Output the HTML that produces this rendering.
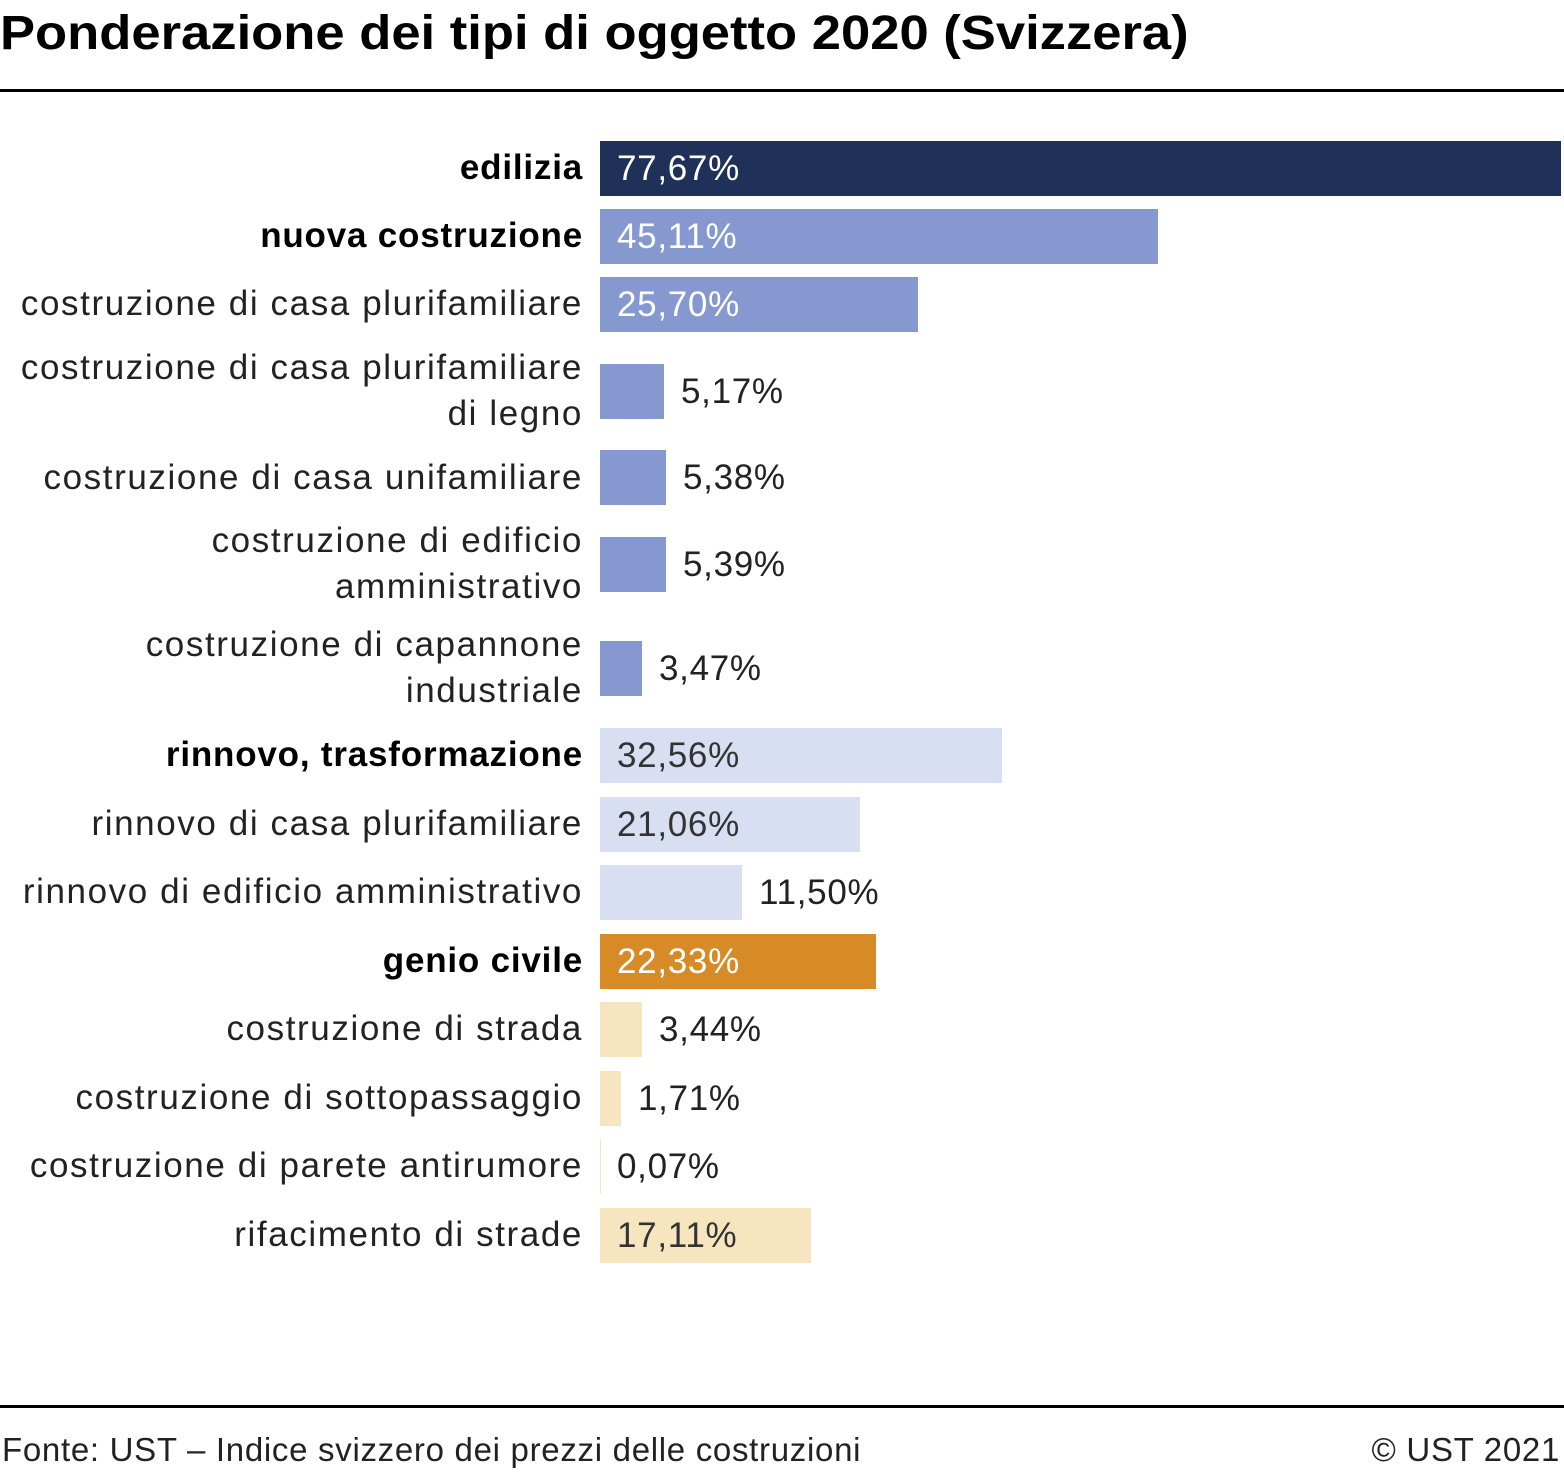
<!DOCTYPE html>
<html><head><meta charset="utf-8"><style>
body{margin:0;width:1564px;height:1472px;background:#fff;position:relative;font-family:"Liberation Sans",sans-serif;overflow:hidden}
.t{position:absolute;left:0;top:6px;font-size:48px;font-weight:bold;color:#000;white-space:nowrap;transform:scaleX(1.095);transform-origin:0 0}
.hr{position:absolute;left:0;width:1564px;height:3px;background:#000}
.l{position:absolute;right:981px;font-size:35px;letter-spacing:1.6px;color:#222;text-align:right;line-height:46px;white-space:nowrap}
.b{font-weight:bold;color:#000;letter-spacing:0.8px}
.bar{position:absolute;left:600px;height:55px}
.v{position:absolute;font-size:35px;letter-spacing:0.7px;line-height:55px;white-space:nowrap;color:#222}
.f{position:absolute;top:1431px;font-size:33px;letter-spacing:0.7px;color:#222;white-space:nowrap}
</style></head><body>
<div class="t">Ponderazione dei tipi di oggetto 2020 (Svizzera)</div>
<div class="hr" style="top:89px"></div>

<div class="l b" style="top:145px">edilizia</div>
<div class="bar" style="top:141px;width:961px;background:#1f3159"></div>
<div class="v" style="top:141px;left:617px;color:#fff">77,67%</div>

<div class="l b" style="top:213px">nuova costruzione</div>
<div class="bar" style="top:209px;width:558px;background:#8599d0"></div>
<div class="v" style="top:209px;left:617px;color:#fff">45,11%</div>

<div class="l" style="top:281px">costruzione di casa plurifamiliare</div>
<div class="bar" style="top:277px;width:318px;background:#8599d0"></div>
<div class="v" style="top:277px;left:617px;color:#fff">25,70%</div>

<div class="l" style="top:345px">costruzione di casa plurifamiliare<br>di legno</div>
<div class="bar" style="top:364px;width:64px;background:#8599d0"></div>
<div class="v" style="top:364px;left:681px">5,17%</div>

<div class="l" style="top:455px">costruzione di casa unifamiliare</div>
<div class="bar" style="top:450px;width:66px;background:#8599d0"></div>
<div class="v" style="top:450px;left:683px">5,38%</div>

<div class="l" style="top:518px">costruzione di edificio<br>amministrativo</div>
<div class="bar" style="top:537px;width:66px;background:#8599d0"></div>
<div class="v" style="top:537px;left:683px">5,39%</div>

<div class="l" style="top:622px">costruzione di capannone<br>industriale</div>
<div class="bar" style="top:641px;width:42px;background:#8599d0"></div>
<div class="v" style="top:641px;left:659px">3,47%</div>

<div class="l b" style="top:732px">rinnovo, trasformazione</div>
<div class="bar" style="top:728px;width:402px;background:#d8dff2"></div>
<div class="v" style="top:728px;left:617px;color:#333">32,56%</div>

<div class="l" style="top:801px">rinnovo di casa plurifamiliare</div>
<div class="bar" style="top:797px;width:260px;background:#d8dff2"></div>
<div class="v" style="top:797px;left:617px;color:#333">21,06%</div>

<div class="l" style="top:869px">rinnovo di edificio amministrativo</div>
<div class="bar" style="top:865px;width:142px;background:#d8dff2"></div>
<div class="v" style="top:865px;left:759px">11,50%</div>

<div class="l b" style="top:938px">genio civile</div>
<div class="bar" style="top:934px;width:276px;background:#d68b26"></div>
<div class="v" style="top:934px;left:617px;color:#fff">22,33%</div>

<div class="l" style="top:1006px">costruzione di strada</div>
<div class="bar" style="top:1002px;width:42px;background:#f6e5bf"></div>
<div class="v" style="top:1002px;left:659px">3,44%</div>

<div class="l" style="top:1075px">costruzione di sottopassaggio</div>
<div class="bar" style="top:1071px;width:21px;background:#f6e5bf"></div>
<div class="v" style="top:1071px;left:638px">1,71%</div>

<div class="l" style="top:1143px">costruzione di parete antirumore</div>
<div class="bar" style="top:1139px;width:1px;background:#f6e5bf"></div>
<div class="v" style="top:1139px;left:617px">0,07%</div>

<div class="l" style="top:1212px">rifacimento di strade</div>
<div class="bar" style="top:1208px;width:211px;background:#f6e5bf"></div>
<div class="v" style="top:1208px;left:617px;color:#333">17,11%</div>

<div class="hr" style="top:1405px"></div>
<div class="f" style="left:2px">Fonte: UST – Indice svizzero dei prezzi delle costruzioni</div>
<div class="f" style="right:4px">© UST 2021</div>
</body></html>
